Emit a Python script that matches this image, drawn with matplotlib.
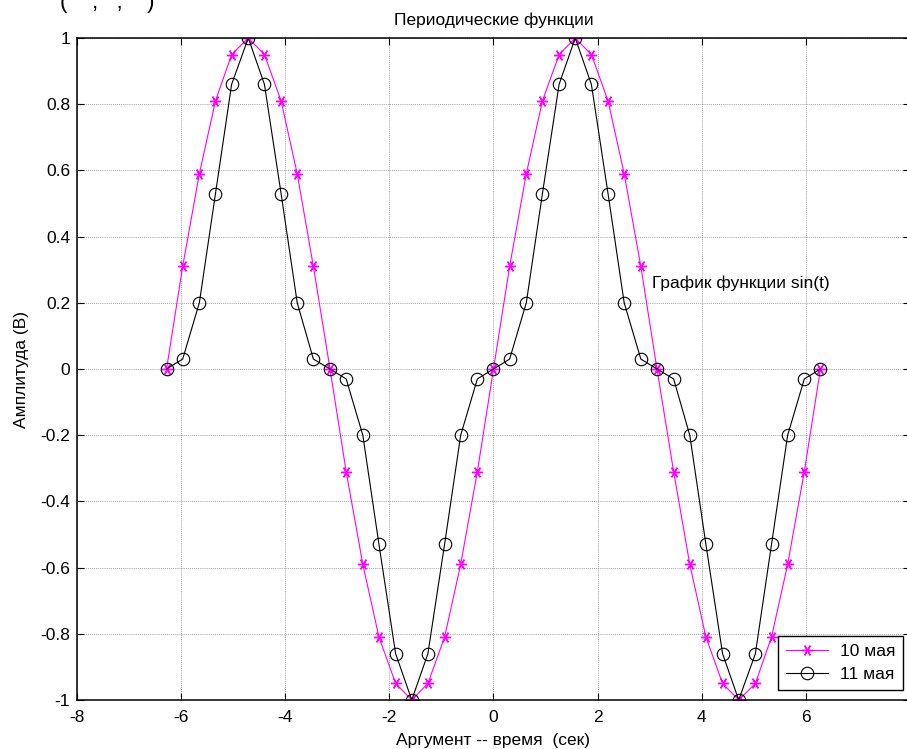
import matplotlib
matplotlib.use("Agg")
import matplotlib.pyplot as plt

plt.rcParams["font.family"] = ["Liberation Sans", "DejaVu Sans"]
plt.rcParams["axes.unicode_minus"] = False

# argument values (sec)
t = [-6.28, -5.97, -5.65, -5.34, -5.03, -4.71, -4.40, -4.08, -3.77, -3.46,
     -3.14, -2.83, -2.51, -2.20, -1.88, -1.57, -1.26, -0.94, -0.63, -0.31,
     0.00, 0.31, 0.63, 0.94, 1.26, 1.57, 1.88, 2.20, 2.51, 2.83,
     3.14, 3.46, 3.77, 4.08, 4.40, 4.71, 5.03, 5.34, 5.65, 5.97, 6.28]

may10 = [0.00, 0.31, 0.59, 0.81, 0.95, 1.00, 0.95, 0.81, 0.59, 0.31,
         0.00, -0.31, -0.59, -0.81, -0.95, -1.00, -0.95, -0.81, -0.59, -0.31,
         0.00, 0.31, 0.59, 0.81, 0.95, 1.00, 0.95, 0.81, 0.59, 0.31,
         0.00, -0.31, -0.59, -0.81, -0.95, -1.00, -0.95, -0.81, -0.59, -0.31, 0.00]

may11 = [0.00, 0.03, 0.20, 0.53, 0.86, 1.00, 0.86, 0.53, 0.20, 0.03,
         0.00, -0.03, -0.20, -0.53, -0.86, -1.00, -0.86, -0.53, -0.20, -0.03,
         0.00, 0.03, 0.20, 0.53, 0.86, 1.00, 0.86, 0.53, 0.20, 0.03,
         0.00, -0.03, -0.20, -0.53, -0.86, -1.00, -0.86, -0.53, -0.20, -0.03, 0.00]

xticks = [-8, -6, -4, -2, 0, 2, 4, 6, 8]
xticklabels = ["-8", "-6", "-4", "-2", "0", "2", "4", "6", ""]  # 8 falls off the canvas
yticks = [-1, -0.8, -0.6, -0.4, -0.2, 0, 0.2, 0.4, 0.6, 0.8, 1]
yticklabels = ["-1", "-0.8", "-0.6", "-0.4", "-0.2", "0", "0.2", "0.4", "0.6", "0.8", "1"]

FS = 12.5

fig = plt.figure(figsize=(9.07, 7.49), dpi=100)
# right edge runs just past the canvas, as in the original screenshot
ax = fig.add_axes([77 / 907, 1 - 700 / 749, (910 - 77) / 907, (700 - 38) / 749])

ax.plot(t, may10, color="#FF00FF", lw=0.8, marker=(6, 2, 90), ms=8,
        mew=1.0, label="10 мая")
ax.plot(t, may11, color="black", lw=0.8, marker="o", ms=9, mfc="none",
        mew=0.8, label="11 мая")

ax.set_xlim(-8, 8)
ax.set_ylim(-1, 1)
ax.set_xticks(xticks)
ax.set_xticklabels(xticklabels)
ax.set_yticks(yticks)
ax.set_yticklabels(yticklabels)
ax.tick_params(direction="in", length=5, top=True, right=True,
               labelsize=FS, width=0.8)
ax.tick_params(axis="x", pad=7)
ax.tick_params(axis="y", pad=5)
ax.grid(True, color="#808080", ls=(0, (1, 1.5)), lw=0.6)
for s in ax.spines.values():
    s.set_linewidth(1.1)

ax.set_title("Периодические функции", fontsize=FS, pad=9)
ax.set_xlabel("Аргумент -- время  (сек)", fontsize=FS, labelpad=6)
ax.set_ylabel("Амплитуда (В)", fontsize=FS, labelpad=8)

ax.text(3.05, 0.26, "График функции sin(t)", fontsize=FS, va="center", ha="left")

leg = ax.legend(loc="lower right", bbox_to_anchor=(903 / 907, 1 - 690 / 749),
                bbox_transform=fig.transFigure, borderaxespad=0, fontsize=FS,
                fancybox=False, framealpha=1, edgecolor="black",
                handlelength=2.4, handletextpad=0.7, borderpad=0.45,
                labelspacing=0.45)
leg.get_frame().set_linewidth(1.0)

# partly clipped caption at the top-left, as in the screenshot
fig.text(60 / 907, 0.996, "(    ,   ,    )", fontsize=16, va="center", ha="left")

fig.savefig("out.png", dpi=100, facecolor="white")
